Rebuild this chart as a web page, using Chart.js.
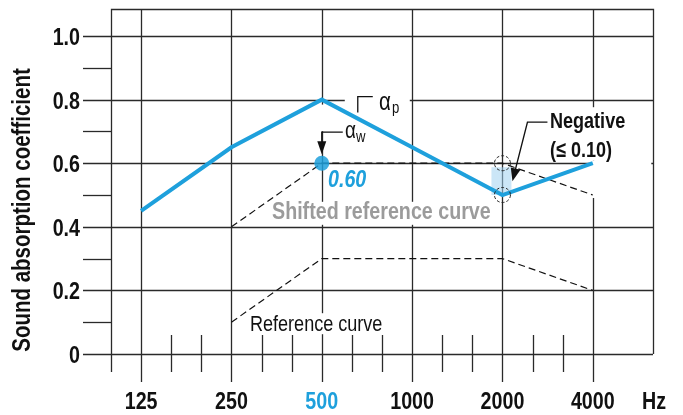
<!DOCTYPE html>
<html><head><meta charset="utf-8">
<script src="https://cdn.jsdelivr.net/npm/chart.js@4/dist/chart.umd.min.js"></script>
<style>html,body{margin:0;padding:0;background:#fff;overflow:hidden}#wrap{width:683px;height:415px}</style>
</head><body><div id="wrap"><canvas id="c" width="683" height="415"></canvas></div>
<script>
// ---- data ----
const freqLabels = ['125', '250', '500', '1000', '2000', '4000'];
const alphaP = [0.45, 0.65, 0.80, 0.65, 0.50, 0.60];
const shiftedRef = [null, 0.40, 0.60, 0.60, 0.60, 0.50];
const refCurve = [null, 0.10, 0.30, 0.30, 0.30, 0.20];
const alphaWIndex = 2;
const alphaWValue = 0.60;
const negIndex = 4;
const negTop = 0.60;
const negBottom = 0.50;
const yTickValues = [0, 0.2, 0.4, 0.6, 0.8, 1.0];
const yTickLabels = ['0', '0.2', '0.4', '0.6', '0.8', '1.0'];
const yMinorValues = [0.1, 0.3, 0.5, 0.7, 0.9];

const BLUE = '#1ea0dc';
const FONT = "'Liberation Sans', Arial, sans-serif";
const SX = 0.82; // narrow (condensed) lettering
const GRID = '#2a2a2a';

function toPts(arr) {
  return arr.map((v, i) => (v === null ? null : { x: i, y: v })).filter(p => p !== null);
}
function txt(ctx, s, x, y, font, color, align) {
  ctx.save();
  ctx.font = font; ctx.fillStyle = color; ctx.textAlign = align || 'left'; ctx.textBaseline = 'alphabetic';
  ctx.translate(x, y); ctx.scale(SX, 1);
  ctx.fillText(s, 0, 0);
  ctx.restore();
}

const annot = {
  id: 'annot',
  beforeDatasetsDraw(chart) {
    const ctx = chart.ctx, xs = chart.scales.x, ys = chart.scales.y, ca = chart.chartArea;
    const X = v => xs.getPixelForValue(v), Y = v => ys.getPixelForValue(v);
    ctx.save();
    ctx.strokeStyle = GRID;
    ctx.lineWidth = 1.3;
    const y0 = Y(0);
    yTickValues.forEach(v => {
      ctx.beginPath(); ctx.moveTo(ca.left - 28, Math.round(Y(v)) + 0.5); ctx.lineTo(ca.right, Math.round(Y(v)) + 0.5); ctx.stroke();
    });
    yMinorValues.forEach(v => {
      ctx.beginPath(); ctx.moveTo(ca.left - 28, Math.round(Y(v)) + 0.5); ctx.lineTo(ca.left, Math.round(Y(v)) + 0.5); ctx.stroke();
    });
    for (let i = 0; i < freqLabels.length; i++) {
      const x = Math.round(X(i)) + 0.5;
      ctx.beginPath(); ctx.moveTo(x, ca.top); ctx.lineTo(x, y0 + 28); ctx.stroke();
    }
    for (let k = 1; k <= 16; k++) {
      const v = -1 / 3 + k / 3;
      if (k % 3 === 1) continue;
      const x = Math.round(X(v)) + 0.5;
      ctx.beginPath(); ctx.moveTo(x, y0 - 19); ctx.lineTo(x, y0 + 18); ctx.stroke();
    }
    // white label backgrounds
    ctx.fillStyle = '#fff';
    ctx.fillRect(X(2) + 23, Y(0.8) - 12, 65, 20);                 // alpha_p
    ctx.fillRect(X(2) - 8, Y(0.8) + 5, 16, Y(alphaWValue) - Y(0.8) - 37); // alpha_w
    ctx.fillRect(X(1.45), Y(0.4) - 25, 222, 23);                   // shifted ref text
    ctx.fillRect(X(1.2), Y(0.1) - 9, 142, 21);                     // reference text
    ctx.fillRect(X(negIndex) + 43, Y(negTop) - 56, X(5.67) - X(negIndex) - 45, 53); // negative text
    ctx.fillRect(X(5) - 3, Y(negTop) - 3, X(5.67) - X(5) + 1, Y(negBottom) - Y(negTop) + 6);
    // frame
    ctx.beginPath();
    ctx.moveTo(Math.round(ca.left) + 0.5, y0 + 18);
    ctx.lineTo(Math.round(ca.left) + 0.5, Math.round(ca.top) + 0.5);
    ctx.lineTo(Math.round(ca.right) + 0.5, Math.round(ca.top) + 0.5);
    ctx.lineTo(Math.round(ca.right) + 0.5, y0);
    ctx.stroke();
    // negative highlight
    ctx.fillStyle = 'rgba(160,210,240,0.55)';
    ctx.fillRect(X(negIndex) - 11, Y(negTop) + 4, 20, Y(negBottom) - Y(negTop) - 4);
    ctx.restore();
  },
  afterDatasetsDraw(chart) {
    const ctx = chart.ctx, xs = chart.scales.x, ys = chart.scales.y, ca = chart.chartArea;
    const X = v => xs.getPixelForValue(v), Y = v => ys.getPixelForValue(v);
    ctx.save();
    ctx.strokeStyle = '#222'; ctx.lineWidth = 1; ctx.setLineDash([3, 2]);
    [negTop, negBottom].forEach(v => {
      ctx.beginPath(); ctx.ellipse(X(negIndex), Y(v), 8, 7.5, 0, 0, Math.PI * 2); ctx.stroke();
    });
    ctx.setLineDash([]);
    ctx.strokeStyle = '#111'; ctx.fillStyle = '#111'; ctx.lineWidth = 1.3;
    // alpha_p leader
    const ax = X(2) + 36, ay = Y(0.8) - 3;
    ctx.beginPath(); ctx.moveTo(ax, Y(0.8) + 13); ctx.lineTo(ax, ay); ctx.lineTo(ax + 15, ay); ctx.stroke();
    // alpha_w arrow
    const wx = X(alphaWIndex), wy = Y(alphaWValue);
    ctx.beginPath(); ctx.moveTo(wx + 21, wy - 31); ctx.lineTo(wx, wy - 31); ctx.lineTo(wx, wy - 20); ctx.stroke();
    ctx.beginPath(); ctx.moveTo(wx - 4.5, wy - 22); ctx.lineTo(wx + 4.5, wy - 22); ctx.lineTo(wx, wy - 9); ctx.closePath(); ctx.fill();
    // negative arrow
    const nx0 = X(negIndex) + 45, ny0 = Y(negTop) - 41;
    const nx1 = X(negIndex) + 25;
    const tipX = X(negIndex) + 10, tipY = Y(negTop) + 18;
    ctx.beginPath(); ctx.moveTo(nx0, ny0); ctx.lineTo(nx1, ny0); ctx.lineTo(tipX + 3, tipY - 12); ctx.stroke();
    const dx = tipX - nx1, dy = tipY - ny0, L = Math.hypot(dx, dy), ux = dx / L, uy = dy / L;
    const hb = 13, hw = 5;
    ctx.beginPath();
    ctx.moveTo(tipX, tipY);
    ctx.lineTo(tipX - ux * hb - uy * hw, tipY - uy * hb + ux * hw);
    ctx.lineTo(tipX - ux * hb + uy * hw, tipY - uy * hb - ux * hw);
    ctx.closePath(); ctx.fill();

    // ---- texts ----
    const B24 = 'bold 24px ' + FONT;
    yTickValues.forEach((v, i) => txt(ctx, yTickLabels[i], ca.left - 31, Y(v) + 9, B24, '#111', 'right'));
    freqLabels.forEach((t, i) => txt(ctx, t, X(i), 409, B24, i === alphaWIndex ? BLUE : '#111', 'center'));
    txt(ctx, 'Hz', 642, 409, B24, '#111', 'left');
    // y title
    ctx.save();
    ctx.translate(30, 210); ctx.rotate(-Math.PI / 2);
    txt(ctx, 'Sound absorption coefficient', 0, 0, 'bold 25px ' + FONT, '#111', 'center');
    ctx.restore();
    txt(ctx, 'Reference curve', 250, 331, '22px ' + FONT, '#111');
    txt(ctx, 'Shifted reference curve', 272, 219, 'bold 24px ' + FONT, '#9b9b9b');
    txt(ctx, '0.60', 328, 187, 'italic bold 24px ' + FONT, BLUE);
    txt(ctx, 'Negative', 550, 128, 'bold 22px ' + FONT, '#111');
    txt(ctx, '(\u2264 0.10)', 550, 157, 'bold 22px ' + FONT, '#111');
    txt(ctx, '\u03b1', 379, 110, '25px ' + FONT, '#111');
    txt(ctx, 'p', 392, 113, '16px ' + FONT, '#111');
    txt(ctx, '\u03b1', 345, 138, '23px ' + FONT, '#111');
    txt(ctx, 'w', 356, 142, '16px ' + FONT, '#111');
    ctx.restore();
  }
};

new Chart(document.getElementById('c'), {
  type: 'line',
  data: {
    datasets: [
      { label: 'alpha_w', data: [{ x: alphaWIndex, y: alphaWValue }], showLine: false,
        pointRadius: 7.5, pointBackgroundColor: 'rgba(30,160,220,0.85)', pointBorderWidth: 0, order: 0 },
      { label: 'alpha_p', data: toPts(alphaP), borderColor: BLUE, borderWidth: 4, pointRadius: 0,
        tension: 0, order: 1, borderJoinStyle: 'miter' },
      { label: 'Shifted reference curve', data: toPts(shiftedRef), borderColor: '#111', borderWidth: 1.2,
        borderDash: [7, 4], pointRadius: 0, order: 2 },
      { label: 'Reference curve', data: toPts(refCurve), borderColor: '#111', borderWidth: 1.2,
        borderDash: [7, 4], pointRadius: 0, order: 3 }
    ]
  },
  options: {
    responsive: false, animation: false, devicePixelRatio: 1,
    layout: { padding: { left: 111, right: 30, top: 9, bottom: 61 } },
    plugins: { legend: { display: false }, tooltip: { enabled: false } },
    scales: {
      x: { type: 'linear', min: -1 / 3, max: 5 + 2 / 3, display: false },
      y: { type: 'linear', min: 0, max: 1.085, display: false }
    }
  },
  plugins: [annot]
});
</script>
</body></html>
